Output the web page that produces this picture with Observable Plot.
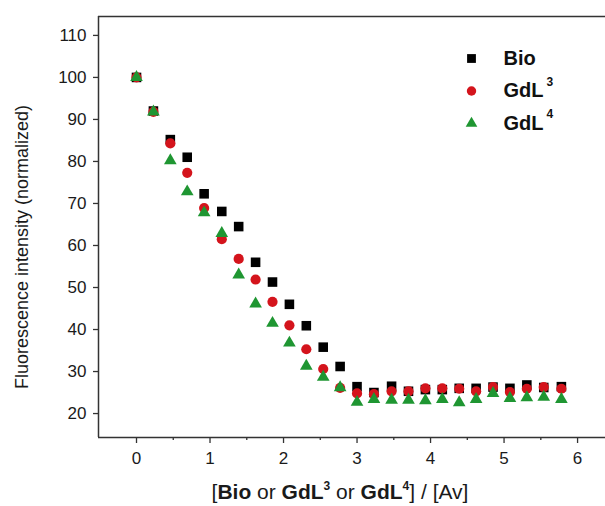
<!DOCTYPE html>
<html><head><meta charset="utf-8">
<script src="https://cdn.jsdelivr.net/npm/d3@7"></script>
<script src="https://cdn.jsdelivr.net/npm/@observablehq/plot@0.6"></script>
<style>body{margin:0;background:#fff} #chart{width:605px;height:506px}</style>
</head><body><div id="chart"></div>
<script>
// [ligand]/[Av] ratio
const ratio = [0, 0.23, 0.46, 0.69, 0.92, 1.16, 1.39, 1.62, 1.85, 2.08, 2.31, 2.54, 2.77, 3.0, 3.23, 3.47, 3.70, 3.93, 4.16, 4.39, 4.62, 4.85, 5.08, 5.31, 5.54, 5.78];
const bio  = [100, 92.0, 85.2, 81.0, 72.3, 68.1, 64.5, 56.0, 51.3, 46.0, 40.9, 35.8, 31.2, 26.4, 25.0, 26.5, 25.3, 25.7, 25.7, 26.0, 26.0, 26.3, 26.0, 26.8, 26.2, 26.4];
const gdl3 = [100, 91.8, 84.3, 77.3, 68.9, 61.5, 56.8, 51.9, 46.6, 41.0, 35.3, 30.6, 26.1, 24.8, 24.6, 25.3, 25.3, 26.0, 26.0, 25.9, 25.3, 26.3, 25.1, 25.9, 26.3, 25.9];
const gdl4 = [100, 91.8, 80.2, 72.8, 67.8, 62.9, 53.0, 46.1, 41.5, 36.8, 31.3, 28.7, 26.2, 22.7, 23.4, 23.2, 23.2, 23.1, 23.4, 22.6, 23.4, 24.8, 23.6, 23.8, 23.9, 23.4];
const seriesNames = ["Bio", "GdL", "GdL"];
const seriesSup = ["", "3", "4"];
const xTicks = [0, 1, 2, 3, 4, 5, 6];
const xMinorTicks = [0.5, 1.5, 2.5, 3.5, 4.5, 5.5];
const yTicks = [20, 30, 40, 50, 60, 70, 80, 90, 100, 110];
const xDomain = [-0.517, 6.38];
const yDomain = [14.3, 114.5];
const yLabel = "Fluorescence intensity (normalized)";

const FONT = "'Liberation Sans', Arial, Helvetica, sans-serif";
const AX = "#333";
const colors = ["#000000", "#d4141c", "#1f9632"];
const symbols = ["square", "circle", "triangle"];
const radii = [5.4, 5.1, 4.7];

const series = [bio, gdl3, gdl4];
const rows = [];
series.forEach((vals, s) => vals.forEach((v, i) => rows.push({x: ratio[i], y: v, s})));

const marks = [];
// frame lines
marks.push(Plot.ruleY([yDomain[1]], {stroke: AX, strokeWidth: 1.5}));
marks.push(Plot.ruleY([yDomain[0]], {stroke: AX, strokeWidth: 1.5}));
marks.push(Plot.ruleX([xDomain[0]], {stroke: AX, strokeWidth: 1.5}));
// axes
marks.push(Plot.axisY(yTicks, {tickSize: 5, tickPadding: 7, fontSize: 17, label: null, stroke: AX, strokeWidth: 1.3, color: "#1a1a1a"}));
marks.push(Plot.axisX(xTicks, {tickSize: 6, tickPadding: 8, fontSize: 17, label: null, stroke: AX, strokeWidth: 1.3, color: "#1a1a1a"}));
marks.push(Plot.axisX(xMinorTicks, {tickSize: 3, tickFormat: () => "", label: null, stroke: AX, strokeWidth: 1.3}));
// data
[0, 1, 2].forEach(s => {
  marks.push(Plot.dot(rows.filter(d => d.s === s), {x: "x", y: "y", symbol: symbols[s], r: radii[s], fill: colors[s], stroke: "none"}));
});
// legend
[0, 1, 2].forEach(s => {
  marks.push(Plot.dot([s], {frameAnchor: "top-right", dx: -134, dy: 42 + s * 32.5, symbol: symbols[s], r: radii[s] * 0.92, fill: colors[s]}));
  marks.push(Plot.text([seriesNames[s]], {frameAnchor: "top-right", dx: -102, dy: 42 + s * 32.5, text: d => d, textAnchor: "start", lineAnchor: "middle", fontSize: 20, fontWeight: "bold", fill: "#111"}));
  if (seriesSup[s]) marks.push(Plot.text([seriesSup[s]], {frameAnchor: "top-right", dx: -59, dy: 33 + s * 32.5, text: d => d, textAnchor: "start", lineAnchor: "middle", fontSize: 12, fontWeight: "bold", fill: "#111"}));
});
// y label
marks.push(Plot.text([yLabel], {frameAnchor: "left", dx: -76, dy: 20, rotate: -90, text: d => d, fontSize: 18, fill: "#1a1a1a", textAnchor: "middle", lineAnchor: "middle"}));

const chart = Plot.plot({
  width: 605, height: 506,
  marginLeft: 98, marginRight: 0, marginTop: 16, marginBottom: 69,
  style: {fontFamily: FONT, background: "#fff"},
  x: {domain: xDomain, axis: null},
  y: {domain: yDomain, axis: null},
  marks
});
document.getElementById("chart").appendChild(chart);

// x axis title with mixed weights and superscripts
const svg = d3.select(chart);
const t = svg.append("text")
  .attr("x", 340).attr("y", 499)
  .attr("text-anchor", "middle")
  .attr("font-family", FONT).attr("font-size", 21).attr("fill", "#1a1a1a");
const parts = [["[", "normal"], ["Bio", "bold"], [" or ", "normal"], ["GdL", "bold"], ["3", "sup"], [" or ", "normal"], ["GdL", "bold"], ["4", "sup"], ["] / [Av]", "normal"]];
let prevSup = false;
parts.forEach(([txt, kind]) => {
  const sp = t.append("tspan").text(txt);
  if (kind === "bold") sp.attr("font-weight", "bold");
  if (kind === "sup") sp.attr("font-weight", "bold").attr("font-size", 12).attr("dy", -9);
  else if (prevSup) sp.attr("dy", 9);
  prevSup = kind === "sup";
});
</script>
</body></html>
